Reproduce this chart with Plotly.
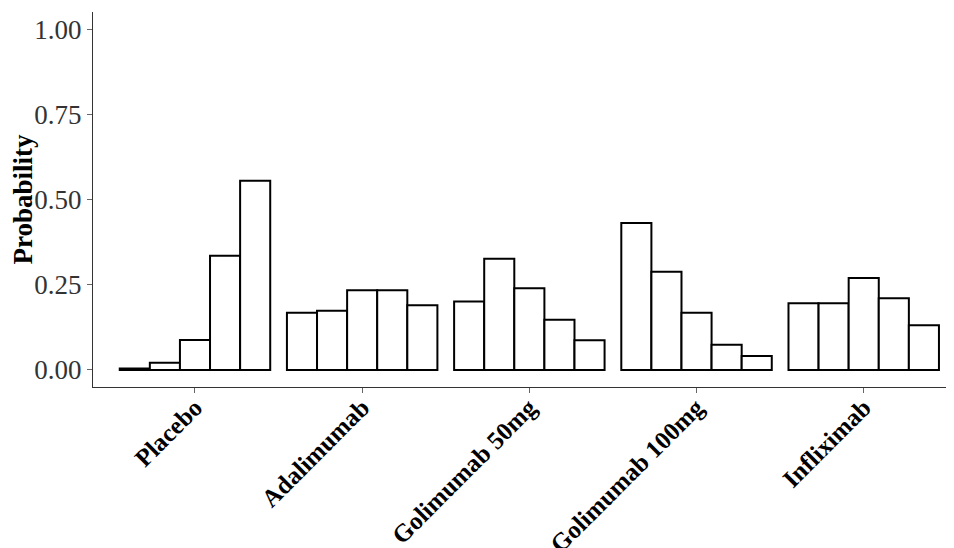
import plotly.graph_objects as go

treatments = ["Placebo", "Adalimumab", "Golimumab 50mg", "Golimumab 100mg", "Infliximab"]
ranks = ["Rank 1", "Rank 2", "Rank 3", "Rank 4", "Rank 5"]
# probability of each rank (rows = rank, columns = treatment)
prob_rank1 = [0.004, 0.168, 0.201, 0.431, 0.196]
prob_rank2 = [0.021, 0.174, 0.326, 0.288, 0.196]
prob_rank3 = [0.088, 0.234, 0.240, 0.168, 0.270]
prob_rank4 = [0.335, 0.234, 0.147, 0.074, 0.210]
prob_rank5 = [0.555, 0.190, 0.087, 0.041, 0.131]
series = [prob_rank1, prob_rank2, prob_rank3, prob_rank4, prob_rank5]

font_family = "Liberation Serif, Times New Roman, serif"

fig = go.Figure()
for name, vals in zip(ranks, series):
    fig.add_trace(go.Bar(
        x=treatments, y=vals, name=name,
        marker=dict(color="white", line=dict(color="black", width=2)),
        showlegend=False,
    ))

fig.update_layout(
    width=954, height=548,
    margin=dict(l=85, r=8, t=4, b=169, autoexpand=False),
    paper_bgcolor="white", plot_bgcolor="white",
    barmode="group", bargap=0.1, bargroupgap=0,
    font=dict(family=font_family, color="#222222"),
)
fig.update_xaxes(
    range=[-0.61, 4.54],
    automargin=False,
    showline=True, linecolor="#333333", linewidth=1.2,
    ticks="outside", ticklen=5, tickcolor="#666666",
    tickangle=-45, ticklabelstandoff=-10,
    tickfont=dict(family=font_family, size=25, color="black", weight="bold"),
    showgrid=False, zeroline=False,
)
fig.update_yaxes(
    range=[-0.05, 1.05],
    automargin=False,
    tickvals=[0, 0.25, 0.5, 0.75, 1.0],
    ticktext=["0.00", "0.25", "0.50", "0.75", "1.00"],
    showline=True, linecolor="#333333", linewidth=1.2,
    ticks="outside", ticklen=5, tickcolor="#666666",
    tickfont=dict(family=font_family, size=27, color="#333333"),
    title=dict(text="Probability", font=dict(family=font_family, size=27, color="black", weight="bold"), standoff=6),
    showgrid=False, zeroline=False,
)

fig.write_html("out.html")
